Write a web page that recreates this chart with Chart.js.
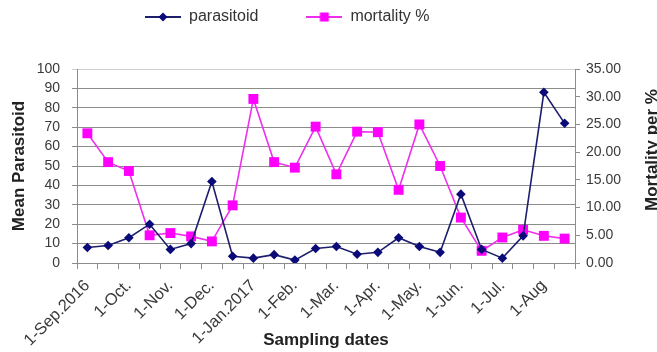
<!DOCTYPE html>
<html>
<head>
<meta charset="utf-8">
<script src="https://cdn.jsdelivr.net/npm/chart.js@4.4.1/dist/chart.umd.min.js"></script>
<style>
  html, body { margin: 0; padding: 0; background: #ffffff; }
  #wrap { width: 657px; height: 352px; }
</style>
</head>
<body>
<div id="wrap"><canvas id="c" width="657" height="352"></canvas></div>
<script>
// Sampling dates (twice a month); only the first of each month is labelled
const samplingDates = [
  '1-Sep.2016', '15-Sep.', '1-Oct.', '15-Oct.', '1-Nov.', '15-Nov.',
  '1-Dec.', '15-Dec.', '1-Jan.2017', '15-Jan.', '1-Feb.', '15-Feb.',
  '1-Mar.', '15-Mar.', '1-Apr.', '15-Apr.', '1-May.', '15-May.',
  '1-Jun.', '15-Jun.', '1-Jul.', '15-Jul.', '1-Aug', '15-Aug'
];

// Mean number of parasitoids per sample (left axis)
const parasitoid = [
  8, 9, 13, 20, 7, 10, 42, 3.5, 2.5, 4.3, 1.5, 7.5,
  8.5, 4.5, 5.5, 13, 8.5, 5.5, 35.5, 7, 2.5, 14, 88, 72
];

// Mortality percentage (right axis)
const mortality = [
  23.4, 18.2, 16.6, 5.0, 5.4, 4.8, 3.9, 10.4, 29.6, 18.2, 17.2, 24.6,
  16.0, 23.7, 23.6, 13.2, 25.0, 17.5, 8.2, 2.2, 4.6, 6.0, 4.9, 4.4
];

const seriesNames = ['parasitoid', 'mortality %'];
const leftTitle = 'Mean Parasitoid';
const rightTitle = 'Mortality per %';
const bottomTitle = 'Sampling dates';

const NAVY = '#0a0a78';
const NAVY_LINE = '#1e1e6e';
const PINK = '#ff00ff';
const PINK_LINE = '#ee30ee';
const GRID = '#8c8c8c';
const FONT = "'Liberation Sans', Arial, Helvetica, sans-serif";

Chart.defaults.font.family = FONT;
Chart.defaults.color = '#333333';

// Legend symbols: a short line with the series marker in the middle
function legendIcon(kind) {
  const cv = document.createElement('canvas');
  cv.width = 36; cv.height = 12;
  const g = cv.getContext('2d');
  g.strokeStyle = kind === 'diamond' ? NAVY_LINE : PINK_LINE;
  g.lineWidth = 2;
  g.beginPath(); g.moveTo(0, 6); g.lineTo(36, 6); g.stroke();
  if (kind === 'diamond') {
    g.fillStyle = NAVY;
    g.beginPath();
    g.moveTo(18, 1.5); g.lineTo(22.5, 6); g.lineTo(18, 10.5); g.lineTo(13.5, 6);
    g.closePath(); g.fill();
  } else {
    g.fillStyle = PINK;
    g.fillRect(13.5, 1.5, 9, 9);
  }
  return cv;
}
const legendIcons = [legendIcon('diamond'), legendIcon('square')];

// Places the legend row above the plot
const legendPlacer = {
  id: 'legendPlacer',
  afterLayout(chart) {
    const lg = chart.legend;
    if (!lg) return;
    const pad = lg.options.labels.padding;
    lg.left = 145 - pad;
    lg.top = 9 - pad;
  }
};

// Right-hand axis title, reading bottom to top
const rightAxisTitle = {
  id: 'rightAxisTitle',
  afterDraw(chart) {
    const ctx = chart.ctx;
    ctx.save();
    ctx.translate(652, 150);
    ctx.rotate(-Math.PI / 2);
    ctx.font = 'bold 17px ' + FONT;
    ctx.fillStyle = '#222222';
    ctx.textAlign = 'center';
    ctx.textBaseline = 'middle';
    ctx.fillText(rightTitle, 0, 0);
    ctx.restore();
  }
};

new Chart(document.getElementById('c'), {
  type: 'line',
  data: {
    labels: samplingDates,
    datasets: [
      {
        label: seriesNames[0],
        data: parasitoid,
        yAxisID: 'y',
        borderColor: NAVY_LINE,
        backgroundColor: NAVY,
        borderWidth: 1.6,
        pointStyle: 'rectRot',
        pointRadius: 4.8,
        pointBorderWidth: 0,
        pointBackgroundColor: NAVY,
        tension: 0
      },
      {
        label: seriesNames[1],
        data: mortality,
        yAxisID: 'y1',
        borderColor: PINK_LINE,
        backgroundColor: PINK,
        borderWidth: 1.6,
        pointStyle: 'rect',
        pointRadius: 7,
        pointBorderWidth: 0,
        pointBackgroundColor: PINK,
        tension: 0
      }
    ]
  },
  options: {
    responsive: false,
    animation: false,
    layout: { padding: { top: -5, left: 0, right: 0, bottom: 0 } },
    plugins: {
      tooltip: { enabled: false },
      legend: {
        position: 'top',
        align: 'start',
        labels: {
          padding: 48,
          usePointStyle: true,
          pointStyleWidth: 36,
          font: { size: 16 },
          color: '#333333',
          generateLabels(chart) {
            const items = Chart.defaults.plugins.legend.labels.generateLabels(chart);
            items.forEach((it, i) => { it.pointStyle = legendIcons[i]; });
            return items;
          }
        }
      }
    },
    scales: {
      x: {
        type: 'category',
        offset: true,
        grid: {
          offset: true,
          drawOnChartArea: false,
          color: GRID,
          tickLength: 6
        },
        border: { color: GRID },
        ticks: {
          autoSkip: false,
          maxRotation: 45,
          minRotation: 45,
          padding: 7,
          font: { size: 16.5 },
          color: '#3a3a3a',
          callback(value) {
            const s = this.getLabelForValue(value);
            return s.startsWith('1-') ? s : '';
          }
        },
        title: {
          display: true,
          text: bottomTitle,
          font: { size: 17, weight: 'bold' },
          color: '#222222',
          padding: { top: 2, bottom: 1 }
        },
        afterFit(scale) { scale.height = 89; }
      },
      y: {
        position: 'left',
        min: 0,
        max: 100,
        ticks: {
          stepSize: 10,
          autoSkip: false,
          padding: 12,
          font: { size: 14 },
          color: '#3a3a3a'
        },
        grid: {
          color: (c) => (c.tick && c.tick.value === 100 ? '#cfcfcf' : GRID),
          tickLength: 5
        },
        border: { color: GRID },
        title: {
          display: true,
          text: leftTitle,
          font: { size: 17, weight: 'bold' },
          color: '#222222',
          padding: { top: 9, bottom: 2 }
        },
        afterFit(scale) { scale.width = 77; }
      },
      y1: {
        position: 'right',
        min: 0,
        max: 35,
        ticks: {
          stepSize: 5,
          autoSkip: false,
          padding: 6,
          font: { size: 14 },
          color: '#3a3a3a',
          callback: (v) => Number(v).toFixed(2)
        },
        grid: {
          drawOnChartArea: false,
          color: GRID,
          tickLength: 5
        },
        border: { color: GRID },
        afterFit(scale) { scale.width = 82; }
      }
    }
  },
  plugins: [legendPlacer, rightAxisTitle]
});
</script>
</body>
</html>
